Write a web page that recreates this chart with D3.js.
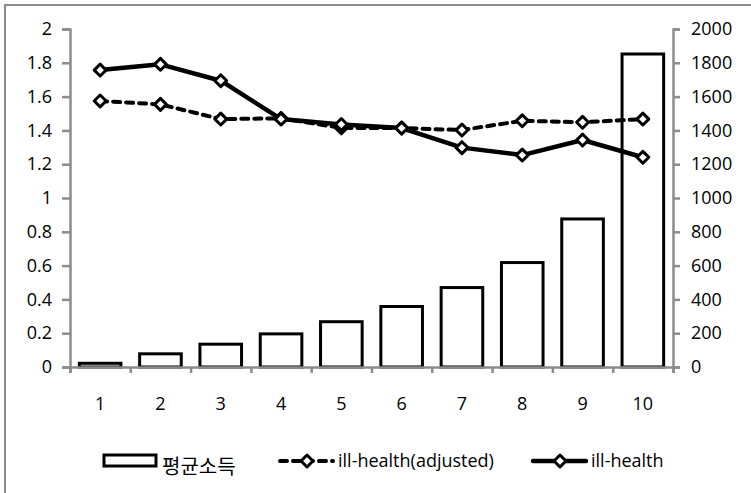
<!DOCTYPE html>
<html>
<head>
<meta charset="utf-8">
<script src="https://cdn.jsdelivr.net/npm/d3@7"></script>
<style>
  body { margin: 0; background: #fff; }
  text { font-family: "Open Sans", "Noto Sans CJK KR", sans-serif; fill: #000; }
</style>
</head>
<body>
<div id="chart"></div>
<script>
const categories = ["1", "2", "3", "4", "5", "6", "7", "8", "9", "10"];
const income = [22, 78, 135, 196, 268, 358, 470, 618, 876, 1852];           // 평균소득 (right axis)
const illHealthAdj = [1.574, 1.554, 1.467, 1.471, 1.415, 1.414, 1.402, 1.457, 1.448, 1.467];
const illHealth = [1.757, 1.791, 1.694, 1.467, 1.435, 1.414, 1.298, 1.254, 1.343, 1.241];
const leftTicks = [0, 0.2, 0.4, 0.6, 0.8, 1, 1.2, 1.4, 1.6, 1.8, 2];
const rightTicks = [0, 200, 400, 600, 800, 1000, 1200, 1400, 1600, 1800, 2000];

const width = 751, height = 493;
const margin = { top: 29, right: 78, bottom: 126, left: 70 };
const innerW = width - margin.left - margin.right;
const innerH = height - margin.top - margin.bottom;
const axisColor = "#8c8c8c";
const fontSize = "18px";

const svg = d3.select("#chart").append("svg")
    .attr("width", width)
    .attr("height", height);

// outer frame (runs off the right and bottom edges)
svg.append("rect")
    .attr("x", 5).attr("y", 5)
    .attr("width", width + 10).attr("height", height + 10)
    .attr("fill", "none")
    .attr("stroke", axisColor)
    .attr("stroke-width", 2);

const g = svg.append("g").attr("transform", `translate(${margin.left},${margin.top})`);

const x = d3.scaleBand().domain(categories).range([0, innerW]).paddingInner(0.31).paddingOuter(0.155);
const xStep = d3.scaleLinear().domain([0, categories.length]).range([0, innerW]);
const yLeft = d3.scaleLinear().domain([0, 2]).range([innerH, 0]);
const yRight = d3.scaleLinear().domain([0, 2000]).range([innerH, 0]);
const cx = d => x(d) + x.bandwidth() / 2;

// bars
g.selectAll(".bar")
    .data(income)
    .enter().append("rect")
    .attr("class", "bar")
    .attr("x", (d, i) => x(categories[i]))
    .attr("y", d => yRight(d))
    .attr("width", x.bandwidth())
    .attr("height", d => yRight(0) - yRight(d))
    .attr("fill", "#fff")
    .attr("stroke", "#000")
    .attr("stroke-width", 3);

// axes
const leftAxis = g.append("g")
    .call(d3.axisLeft(yLeft).tickValues(leftTicks).tickSize(8).tickPadding(10).tickFormat(d3.format("~g")));
const rightAxis = g.append("g")
    .attr("transform", `translate(${innerW},0)`)
    .call(d3.axisRight(yRight).tickValues(rightTicks).tickSize(7).tickPadding(11).tickFormat(d3.format("d")));
const bottomAxis = g.append("g")
    .attr("transform", `translate(0,${innerH})`)
    .call(d3.axisBottom(xStep).tickValues(d3.range(categories.length + 1)).tickSize(6).tickFormat(""));

[leftAxis, rightAxis, bottomAxis].forEach(a => {
    a.select(".domain").attr("stroke", axisColor).attr("stroke-width", 2.5);
    a.selectAll(".tick line").attr("stroke", axisColor).attr("stroke-width", 2.5);
    a.selectAll("text").style("font-size", fontSize).attr("fill", "#000");
});

// category labels
g.selectAll(".xlabel")
    .data(categories)
    .enter().append("text")
    .attr("class", "xlabel")
    .attr("x", d => cx(d))
    .attr("y", innerH + 43)
    .attr("text-anchor", "middle")
    .style("font-size", fontSize)
    .text(d => d);

const marker = d3.symbol().type(d3.symbolDiamond2).size(90);

function drawSeries(values, dashed) {
    const line = d3.line().x((d, i) => cx(categories[i])).y(d => yLeft(d));
    g.append("path")
        .datum(values)
        .attr("d", line)
        .attr("fill", "none")
        .attr("stroke", "#000")
        .attr("stroke-width", dashed ? 4 : 4.5)
        .attr("stroke-linecap", "round")
        .attr("stroke-linejoin", "round")
        .attr("stroke-dasharray", dashed ? "7,6" : null);
    g.selectAll(null)
        .data(values)
        .enter().append("path")
        .attr("d", marker)
        .attr("transform", (d, i) => `translate(${cx(categories[i])},${yLeft(d)})`)
        .attr("fill", "#fff")
        .attr("stroke", "#000")
        .attr("stroke-width", 3)
        .attr("stroke-linejoin", "round");
}
drawSeries(illHealthAdj, true);
drawSeries(illHealth, false);

// legend
const lg = svg.append("g");
lg.append("rect")
    .attr("x", 104).attr("y", 455)
    .attr("width", 52).attr("height", 11)
    .attr("fill", "#fff").attr("stroke", "#000").attr("stroke-width", 3);
lg.append("text")
    .attr("x", 162).attr("y", 474)
    .style("font-family", "'Noto Sans CJK KR', sans-serif")
    .style("font-size", "20px")
    .text("평균소득");

function legendLine(x0, dashed, label) {
    lg.append("line")
        .attr("x1", x0).attr("x2", x0 + 53)
        .attr("y1", 461).attr("y2", 461)
        .attr("stroke", "#000")
        .attr("stroke-width", dashed ? 4 : 4.5)
        .attr("stroke-linecap", "round")
        .attr("stroke-dasharray", dashed ? "7,6" : null);
    lg.append("path")
        .attr("d", marker)
        .attr("transform", `translate(${x0 + 27},461)`)
        .attr("fill", "#fff").attr("stroke", "#000").attr("stroke-width", 3)
        .attr("stroke-linejoin", "round");
    lg.append("text")
        .attr("x", x0 + 58).attr("y", 467)
        .style("font-size", fontSize)
        .text(label);
}
legendLine(280, true, "ill-health(adjusted)");
legendLine(533, false, "ill-health");
</script>
</body>
</html>
